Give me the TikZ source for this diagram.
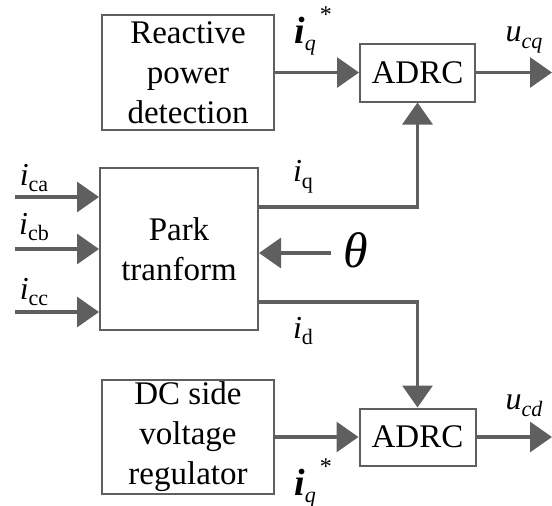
\documentclass[tikz,border=0pt]{standalone}
\usepackage{fontspec}
\setmainfont{Liberation Serif}
\usetikzlibrary{arrows.meta}
\definecolor{linegray}{RGB}{95,95,95}
\newcommand{\lowsub}[1]{\raisebox{-0.45ex}{\fontsize{11}{11}\selectfont #1}}
\tikzset{
  blockbox/.style={draw=linegray,line width=1pt,align=center,inner sep=0pt,
    font=\fontsize{16.5}{20}\selectfont},
  sigline/.style={draw=linegray,line width=1.6pt,-{Triangle[length=11pt,width=15pt]}},
  siglabel/.style={inner sep=0pt,font=\fontsize{16}{16}\selectfont}
}
\begin{document}
\begin{tikzpicture}[x=0.5pt,y=-0.5pt]
    \useasboundingbox (0,0) rectangle (552,505);
    % blocks
    \node[blockbox,minimum width=86pt,minimum height=57.5pt] (react) at (188,72.5) {Reactive\\power\\detection};
    \node[blockbox,minimum width=57.5pt,minimum height=29pt] (adrcq) at (417.5,72.5) {ADRC};
    \node[blockbox,minimum width=79pt,minimum height=81pt] (park) at (179,249) {Park\\tranform};
    \node[blockbox,minimum width=86pt,minimum height=57pt] (dcreg) at (188,437) {DC side\\voltage\\regulator};
    \node[blockbox,minimum width=58pt,minimum height=28.5pt] (adrcd) at (417.5,437) {ADRC};
    % free ends
    \coordinate (ica) at (15,197);
    \coordinate (icb) at (15,249);
    \coordinate (icc) at (15,312);
    \coordinate (qline) at (0,207);
    \coordinate (dline) at (0,302);
    \coordinate (ucq) at (552,72.5);
    \coordinate (ucd) at (552,437);
    % inputs
    \draw[sigline] (ica) -- (ica -| park.west);
    \draw[sigline] (icb) -- (icb -| park.west);
    \draw[sigline] (icc) -- (icc -| park.west);
    \node[siglabel] (lca) at (34,178) {\textit{i}\lowsub{ca}};
    \node[siglabel] (lcb) at (34,227) {\textit{i}\lowsub{cb}};
    \node[siglabel] (lcc) at (34,292) {\textit{i}\lowsub{cc}};
    % angle
    \node[inner sep=0pt,font=\fontsize{25}{25}\selectfont] (theta) at (356,250) {\textit{θ}};
    \draw[sigline] ([xshift=-6pt]theta.west |- 0,253) -- (park.east |- 0,253);
    % dq currents
    \draw[sigline] (park.east |- qline) -| (adrcq.south);
    \draw[sigline] (park.east |- dline) -| (adrcd.north);
    \node[siglabel] (lq) at (303,177) {\textit{i}\lowsub{q}};
    \node[siglabel] (ld) at (303,331) {\textit{i}\lowsub{d}};
    % references
    \draw[sigline] (react.east) -- (adrcq.west);
    \draw[sigline] (dcreg.east) -- (adrcd.west);
    \node[siglabel,anchor=base west,font=\fontsize{19}{19}\selectfont] (lqa) at (294,43) {\textbf{\textit{i}}\lowsub{\textit{q}}\raisebox{1.2ex}{\fontsize{12}{12}\selectfont\,*}};
    \node[siglabel,anchor=base west,font=\fontsize{19}{19}\selectfont] (lqb) at (294,495) {\textbf{\textit{i}}\lowsub{\textit{q}}\raisebox{1.2ex}{\fontsize{12}{12}\selectfont\,*}};
    % outputs
    \draw[sigline] (adrcq.east) -- (ucq);
    \draw[sigline] (adrcd.east) -- (ucd);
    \node[siglabel] (lcq) at (524,40) {\textit{u}\lowsub{\textit{cq}}};
    \node[siglabel] (lcd) at (524,406) {\textit{u}\lowsub{\textit{cd}}};
\end{tikzpicture}
\end{document}
